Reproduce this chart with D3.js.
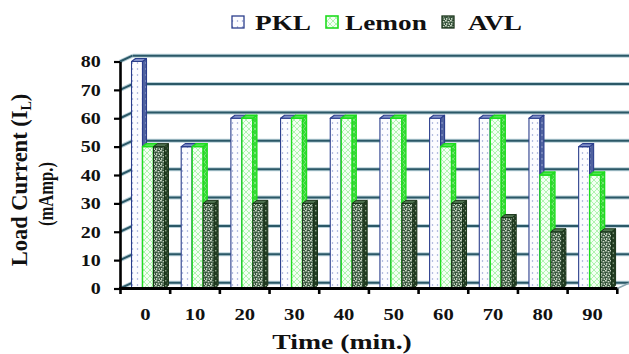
<!DOCTYPE html>
<html>
<head>
<meta charset="utf-8">
<script src="https://cdn.jsdelivr.net/npm/d3@7/dist/d3.min.js"></script>
<style>
  html, body { margin: 0; padding: 0; background: #ffffff; }
  svg { display: block; }
  text { font-family: "Liberation Serif", "Times New Roman", serif; font-weight: bold; fill: #111; }
</style>
</head>
<body>
<script>
// Load current of three cells over time
const categories = ["0", "10", "20", "30", "40", "50", "60", "70", "80", "90"];
const seriesNames = ["PKL", "Lemon", "AVL"];
const pklValues = [80, 50, 60, 60, 60, 60, 60, 60, 60, 50];
const lemonValues = [50, 50, 60, 60, 60, 60, 50, 60, 40, 40];
const avlValues = [50, 30, 30, 30, 30, 30, 30, 25, 20, 20];
const yTicks = [0, 10, 20, 30, 40, 50, 60, 70, 80];

const W = 629, H = 354;
const FONT = "'Liberation Serif', 'Times New Roman', serif";
const svg = d3.select("body").append("svg").attr("width", W).attr("height", H)
  .attr("font-family", FONT).attr("font-weight", "bold");

// Oblique 3-D look: wall depth and column depth offsets
const wall = { dx: 12.5, dy: -5.8 };
const col = { dx: 4, dy: -3 };

const y = d3.scaleLinear().domain([0, 80]).range([288.5, 61.5]);
const x = d3.scaleBand().domain(categories).range([120.5, 617.3]).padding(0);
const bw = x.bandwidth();
const x1 = d3.scaleBand().domain(seriesNames).range([bw * 0.222, bw * 0.885]).padding(0);

// ---- patterns ----
const defs = svg.append("defs");
function pattern(id, w, h, bg, draw) {
  const p = defs.append("pattern").attr("id", id).attr("patternUnits", "userSpaceOnUse")
    .attr("width", w).attr("height", h);
  p.append("rect").attr("width", w).attr("height", h).attr("fill", bg);
  draw(p);
}
pattern("pklFront", 5, 6, "#fcfcff", p => {
  p.append("circle").attr("cx", 2.5).attr("cy", 3).attr("r", 0.75).attr("fill", "#8e9ccf");
});
pattern("pklSide", 4, 6, "#50629f", p => {
  p.append("circle").attr("cx", 2).attr("cy", 3).attr("r", 0.7).attr("fill", "#b7c1e6");
});
pattern("lemonFront", 6, 6, "#f3fff3", p => {
  p.append("path").attr("d", "M0,0L6,6M6,0L0,6").attr("stroke", "#a8f2a8").attr("stroke-width", 0.9);
});
pattern("lemonSide", 6, 6, "#3ad63a", p => {
  p.append("path").attr("d", "M0,0L6,6M6,0L0,6").attr("stroke", "#8ef08e").attr("stroke-width", 0.7);
});
pattern("avlFront", 5, 5, "#34523a", p => {
  [[0, 0, 1.8, 1.5], [2.6, 1, 1.8, 1.4], [1, 3, 1.4, 1.7], [3.6, 3.4, 1.4, 1.6]].forEach(r =>
    p.append("rect").attr("x", r[0]).attr("y", r[1]).attr("width", r[2]).attr("height", r[3]).attr("fill", "#cbd8c6"));
});
pattern("avlSide", 5, 5, "#223c22", p => {
  [[0, 0, 1.4, 1.4], [2.6, 2.4, 1.4, 1.4]].forEach(r =>
    p.append("rect").attr("x", r[0]).attr("y", r[1]).attr("width", r[2]).attr("height", r[3]).attr("fill", "#86a082"));
});

const styles = {
  PKL:   { front: "url(#pklFront)",   side: "url(#pklSide)",   top: "#8190c9", stroke: "#2b3e8c", sw: 1.1 },
  Lemon: { front: "url(#lemonFront)", side: "url(#lemonSide)", top: "#55e255", stroke: "#1edc1e", sw: 1.4 },
  AVL:   { front: "url(#avlFront)",   side: "url(#avlSide)",   top: "#4f724f", stroke: "#193419", sw: 1.0 }
};

// ---- walls and gridlines ----
const grid = svg.append("g");
function gridLine(x1p, y1p, x2p, y2p) {
  grid.append("line").attr("x1", x1p).attr("y1", y1p).attr("x2", x2p).attr("y2", y2p)
    .attr("stroke", "#b9d0d8").attr("stroke-width", 4);
  grid.append("line").attr("x1", x1p).attr("y1", y1p).attr("x2", x2p).attr("y2", y2p)
    .attr("stroke", "#2b5867").attr("stroke-width", 2);
}
const x0 = x.range()[0], xEnd = x.range()[1];
yTicks.forEach(v => {
  gridLine(x0 - 0.5 + wall.dx, y(v) + wall.dy, W + 2, y(v) + wall.dy);
  gridLine(x0 - 0.5, y(v), x0 - 0.5 + wall.dx, y(v) + wall.dy);
});
// floor right edge
grid.append("line").attr("x1", xEnd).attr("y1", y(0)).attr("x2", xEnd + wall.dx).attr("y2", y(0) + wall.dy)
  .attr("stroke", "#8aa6b0").attr("stroke-width", 1.5);

// ---- columns ----
const data = categories.map((c, i) => ({
  cat: c,
  values: [
    { key: "PKL", v: pklValues[i] },
    { key: "Lemon", v: lemonValues[i] },
    { key: "AVL", v: avlValues[i] }
  ]
}));

const bars = svg.append("g");
data.forEach(d => {
  d.values.forEach(s => {
    const st = styles[s.key];
    const bx = x(d.cat) + x1(s.key);
    const w = x1.bandwidth();
    const yt = y(s.v), yb = y(0);
    const g = bars.append("g").attr("stroke", st.stroke).attr("stroke-width", st.sw).attr("stroke-linejoin", "round");
    g.append("rect").attr("x", bx).attr("y", yt).attr("width", w).attr("height", yb - yt).attr("fill", st.front);
    g.append("path").attr("fill", st.side).attr("d",
      `M${bx + w},${yt}L${bx + w + col.dx},${yt + col.dy}L${bx + w + col.dx},${yb + col.dy}L${bx + w},${yb}Z`);
    g.append("path").attr("fill", st.top).attr("d",
      `M${bx},${yt}L${bx + col.dx},${yt + col.dy}L${bx + w + col.dx},${yt + col.dy}L${bx + w},${yt}Z`);
  });
});

// ---- axes ----
const yAxis = svg.append("g").attr("transform", `translate(${x0 - 0.5},0)`)
  .call(d3.axisLeft(y).tickValues(yTicks).tickSize(6).tickSizeOuter(0))
  .attr("font-family", FONT).attr("font-size", 16).attr("font-weight", "bold");
yAxis.select(".domain").attr("stroke", "#000").attr("stroke-width", 2.6);
yAxis.selectAll(".tick line").attr("stroke", "#000").attr("stroke-width", 2.2);
yAxis.selectAll(".tick text")
  .attr("x", -15.5).attr("dy", "0.33em")
  .attr("transform", "scale(1.25,1)")
  .attr("fill", "#111");

const xAxis = svg.append("g").attr("transform", `translate(0,${y(0)})`)
  .call(d3.axisBottom(x).tickSize(0).tickSizeOuter(0).tickPadding(0))
  .attr("font-family", FONT).attr("font-size", 16.5).attr("font-weight", "bold");
xAxis.select(".domain").attr("stroke", "#000").attr("stroke-width", 2.8)
  .attr("d", `M${x0 - 1.5},0H${xEnd}`);
xAxis.selectAll(".tick text")
  .attr("y", 31.5).attr("dy", 0).attr("x", 0)
  .attr("transform", "scale(1.25,1)")
  .attr("fill", "#111");
// category boundary ticks
xAxis.selectAll(".bound").data(categories.map(c => x(c)).concat([xEnd])).enter()
  .append("line").attr("class", "bound")
  .attr("x1", d => d).attr("x2", d => d).attr("y1", 0).attr("y2", 5.5)
  .attr("stroke", "#000").attr("stroke-width", 2.6);

// ---- titles ----
function stretchedText(tx, ty, sx, str, size, anchor) {
  return svg.append("g").attr("transform", `translate(${tx},${ty}) scale(${sx},1)`)
    .append("text").attr("text-anchor", anchor).style("font-size", size + "px").text(str);
}
stretchedText(342, 348.5, 1.26, "Time (min.)", 22, "middle");

const yt1 = svg.append("text").attr("transform", "translate(27,180) rotate(-90)")
  .attr("text-anchor", "middle").style("font-size", "22.5px");
yt1.append("tspan").text("Load Current (I");
yt1.append("tspan").text("L").style("font-size", "14px").attr("dy", 4);
yt1.append("tspan").text(")").attr("dy", -4);
svg.append("text").attr("transform", "translate(52.5,194) rotate(-90)")
  .attr("text-anchor", "middle").style("font-size", "22px")
  .attr("textLength", 64).attr("lengthAdjust", "spacingAndGlyphs").text("(mAmp.)");

// ---- legend ----
const legendItems = [
  { key: "PKL", sx: 232, tx: 255 },
  { key: "Lemon", sx: 326, tx: 345 },
  { key: "AVL", sx: 442, tx: 468 }
];
legendItems.forEach(it => {
  const st = styles[it.key];
  svg.append("rect").attr("x", it.sx).attr("y", 16).attr("width", 12).attr("height", 12)
    .attr("fill", st.front).attr("stroke", st.stroke).attr("stroke-width", it.key === "Lemon" ? 1.6 : 1.3);
  stretchedText(it.tx, 30, 1.24, it.key, 22, "start");
});
</script>
</body>
</html>
